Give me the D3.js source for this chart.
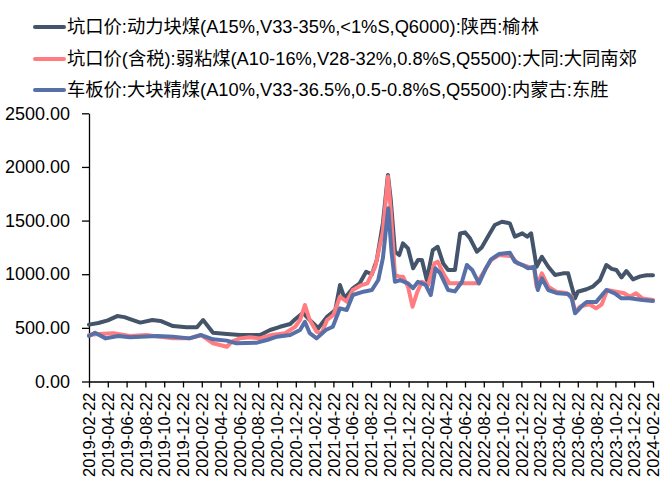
<!DOCTYPE html>
<html><head><meta charset="utf-8">
<script src="https://cdn.jsdelivr.net/npm/d3@7"></script>
<style>body{margin:0;background:#fff;} svg{display:block;}</style>
</head><body>
<svg id="c" width="670" height="494"></svg>
<script>
const seriesNames = [
  "坑口价:动力块煤(A15%,V33-35%,<1%S,Q6000):陕西:榆林",
  "坑口价(含税):弱粘煤(A10-16%,V28-32%,0.8%S,Q5500):大同:大同南郊",
  "车板价:大块精煤(A10%,V33-36.5%,0.5-0.8%S,Q5500):内蒙古:东胜"
];
const seriesColors = ["#44546A", "#FF7C80", "#5770A8"];
const yTicks = [0, 500, 1000, 1500, 2000, 2500];
const xTickLabels = ["2019-02-22","2019-04-22","2019-06-22","2019-08-22","2019-10-22","2019-12-22",
 "2020-02-22","2020-04-22","2020-06-22","2020-08-22","2020-10-22","2020-12-22",
 "2021-02-22","2021-04-22","2021-06-22","2021-08-22","2021-10-22","2021-12-22",
 "2022-02-22","2022-04-22","2022-06-22","2022-08-22","2022-10-22","2022-12-22",
 "2023-02-22","2023-04-22","2023-06-22","2023-08-22","2023-10-22","2023-12-22","2024-02-22"];

const yulin = [
 ["2019-02-22",530],["2019-03-22",545],["2019-04-22",570],["2019-05-22",610],["2019-06-15",600],
 ["2019-07-03",582],["2019-08-05",549],["2019-09-14",573],["2019-10-10",565],["2019-11-20",517],
 ["2020-01-03",505],["2020-02-06",505],["2020-02-26",573],["2020-03-28",455],["2020-05-12",443],
 ["2020-06-24",433],["2020-08-28",433],["2020-09-30",480],["2020-11-01",510],["2020-12-04",536],
 ["2020-12-20",580],["2021-01-15",640],["2021-02-06",573],["2021-03-05",496],["2021-04-01",604],
 ["2021-04-28",666],["2021-05-13",899],["2021-05-28",775],["2021-06-24",868],["2021-07-16",915],
 ["2021-08-06",1023],["2021-08-25",1000],["2021-09-10",1132],["2021-09-30",1477],["2021-10-16",1925],
 ["2021-10-25",1700],["2021-11-08",1210],["2021-11-22",1179],["2021-12-04",1288],["2021-12-20",1241],
 ["2022-01-06",1055],["2022-01-22",1132],["2022-02-04",1132],["2022-02-20",946],["2022-03-10",1225],
 ["2022-03-25",1256],["2022-04-12",1101],["2022-04-28",1039],["2022-05-20",1039],["2022-06-06",1381],
 ["2022-06-22",1390],["2022-07-08",1335],["2022-07-30",1210],["2022-08-15",1250],["2022-09-11",1381],
 ["2022-09-27",1459],["2022-10-20",1489],["2022-11-15",1474],["2022-12-01",1350],["2022-12-25",1381],
 ["2023-01-10",1350],["2023-01-23",1381],["2023-02-10",1070],["2023-02-27",1163],["2023-03-18",1070],
 ["2023-04-09",993],["2023-05-05",1008],["2023-05-21",1008],["2023-06-02",884],["2023-06-13",775],
 ["2023-06-22",837],["2023-07-20",860],["2023-08-09",884],["2023-09-02",946],["2023-09-23",1086],
 ["2023-10-10",1050],["2023-10-25",1040],["2023-11-11",970],["2023-11-27",1030],["2023-12-08",990],
 ["2023-12-18",952],["2024-01-11",980],["2024-02-01",990],["2024-02-22",990]
];
const datong = [
 ["2019-02-22",433],["2019-03-22",443],["2019-05-10",450],["2019-07-03",424],["2019-08-25",433],
 ["2019-11-20",402],["2020-01-12",402],["2020-02-20",433],["2020-03-28",356],["2020-05-12",324],
 ["2020-05-28",371],["2020-06-24",402],["2020-07-26",412],["2020-08-28",402],["2020-10-05",433],
 ["2020-11-18",450],["2020-12-20",510],["2021-01-05",573],["2021-01-21",713],["2021-02-06",573],
 ["2021-02-28",464],["2021-03-15",450],["2021-04-01",573],["2021-04-22",620],["2021-05-13",790],
 ["2021-06-04",744],["2021-06-24",853],["2021-07-22",899],["2021-08-10",915],["2021-09-05",1070],
 ["2021-09-30",1400],["2021-10-16",1910],["2021-10-25",1600],["2021-11-08",993],["2021-11-22",977],
 ["2021-12-04",977],["2021-12-20",884],["2022-01-04",697],["2022-01-20",837],["2022-02-04",930],
 ["2022-02-24",900],["2022-03-15",1101],["2022-03-25",1117],["2022-04-16",990],["2022-05-02",915],
 ["2022-07-30",915],["2022-09-15",1132],["2022-10-10",1179],["2022-11-20",1170],["2022-12-10",1101],
 ["2023-01-13",1070],["2023-02-02",1050],["2023-02-10",884],["2023-02-27",1008],["2023-03-18",884],
 ["2023-04-13",837],["2023-05-15",825],["2023-06-02",790],["2023-06-13",651],["2023-06-30",700],
 ["2023-07-30",720],["2023-08-20",682],["2023-09-08",720],["2023-09-26",853],["2023-10-25",837],
 ["2023-11-20",822],["2023-12-08",790],["2023-12-28",822],["2024-01-18",775],["2024-02-22",760]
];
const dongsheng = [
 ["2019-02-22",424],["2019-03-12",455],["2019-04-15",402],["2019-05-25",424],["2019-07-03",412],
 ["2019-09-30",424],["2019-11-20",418],["2020-01-12",402],["2020-02-20",433],["2020-03-28",393],
 ["2020-05-12",381],["2020-06-12",356],["2020-08-18",362],["2020-09-20",387],["2020-10-22",418],
 ["2020-12-04",433],["2021-01-05",480],["2021-01-21",557],["2021-02-06",450],["2021-02-28",402],
 ["2021-03-28",480],["2021-04-20",510],["2021-05-13",682],["2021-06-04",666],["2021-06-24",806],
 ["2021-07-28",837],["2021-08-25",853],["2021-09-15",946],["2021-09-30",1150],["2021-10-17",1614],
 ["2021-10-28",1200],["2021-11-08",930],["2021-11-25",945],["2021-12-20",915],["2022-01-06",870],
 ["2022-01-22",930],["2022-02-16",900],["2022-03-04",806],["2022-03-18",1055],["2022-04-02",1010],
 ["2022-04-28",853],["2022-05-20",840],["2022-06-12",930],["2022-06-28",1086],["2022-07-15",1040],
 ["2022-08-06",915],["2022-08-28",1050],["2022-09-15",1139],["2022-10-10",1188],["2022-11-15",1200],
 ["2022-12-01",1117],["2022-12-25",1085],["2023-01-13",1055],["2023-02-02",1070],["2023-02-14",853],
 ["2023-02-27",962],["2023-03-18",853],["2023-04-18",822],["2023-05-21",815],["2023-06-02",775],
 ["2023-06-13",636],["2023-07-08",713],["2023-07-20",740],["2023-08-20",740],["2023-09-23",853],
 ["2023-10-20",822],["2023-11-11",775],["2023-12-08",775],["2024-01-18",760],["2024-02-22",750]
];
const allSeries = [yulin, datong, dongsheng];

const parse = d3.timeParse("%Y-%m-%d");
const svg = d3.select("#c");
const x0 = 89, x1 = 653, yTop = 113.3, yBot = 381.5;

// Excel-like date axis: equal spacing per month
const monthIndex = d => {
  const base = parse("2019-02-22");
  const m = d3.timeMonth.count(d3.timeMonth.floor(base), d3.timeMonth.floor(d));
  const start = d3.timeMonth.offset(base, m);
  let s = start, e = d3.timeMonth.offset(base, m + 1);
  let mm = m;
  if (d < start) { e = start; s = d3.timeMonth.offset(base, m - 1); mm = m - 1; }
  return mm + (d - s) / (e - s);
};
const x = d3.scaleLinear().domain([0, 60]).range([x0, x1]);
const y = d3.scaleLinear().domain([0, 2500]).range([yBot, yTop]);

const font = "'Liberation Sans', Arial, 'Noto Sans CJK SC', sans-serif";

// Y axis
const yAxis = d3.axisLeft(y).tickValues(yTicks).tickFormat(d3.format(".2f")).tickSize(7).tickSizeOuter(0);
const gy = svg.append("g").attr("transform", `translate(${x0},0)`).call(yAxis);
gy.select(".domain").attr("stroke", "#000").attr("stroke-width", 1.3);
gy.selectAll(".tick line").attr("stroke", "#000").attr("stroke-width", 1.3);
gy.selectAll(".tick text").attr("font-family", font).attr("font-size", 18).attr("fill", "#000").attr("x", -19);

// X axis
const xTickIdx = xTickLabels.map((t, i) => i * 2);
const xAxis = d3.axisBottom(x).tickValues(xTickIdx).tickFormat((d, i) => xTickLabels[i]).tickSize(6).tickSizeOuter(0);
const gx = svg.append("g").attr("transform", `translate(0,${yBot})`).call(xAxis);
gx.select(".domain").attr("stroke", "#000").attr("stroke-width", 1.3);
gx.selectAll(".tick line").attr("stroke", "#000").attr("stroke-width", 1.3);
gx.selectAll(".tick text").attr("font-family", font).attr("font-size", 16.5).attr("fill", "#000")
  .attr("transform", "rotate(-90)").attr("text-anchor", "end").attr("x", -11).attr("y", 0).attr("dy", "0.35em");

// Lines
const line = d3.line().x(d => x(monthIndex(parse(d[0])))).y(d => y(d[1])).curve(d3.curveLinear);
allSeries.forEach((s, i) => {
  svg.append("path").datum(s).attr("d", line).attr("fill", "none")
    .attr("stroke", seriesColors[i]).attr("stroke-width", 4).attr("stroke-linejoin", "round").attr("stroke-linecap", "round");
});

// Legend
const legY = [27, 59, 90];
seriesNames.forEach((n, i) => {
  const g = svg.append("g");
  g.append("line").attr("x1", 35).attr("x2", 64).attr("y1", legY[i]).attr("y2", legY[i])
    .attr("stroke", seriesColors[i]).attr("stroke-width", 4).attr("stroke-linecap", "round");
  g.append("text").attr("x", 67).attr("y", legY[i]).attr("dy", "0.35em")
    .attr("font-family", font).attr("font-size", 18.3).attr("fill", "#000").text(n);
});
</script>
</body></html>
